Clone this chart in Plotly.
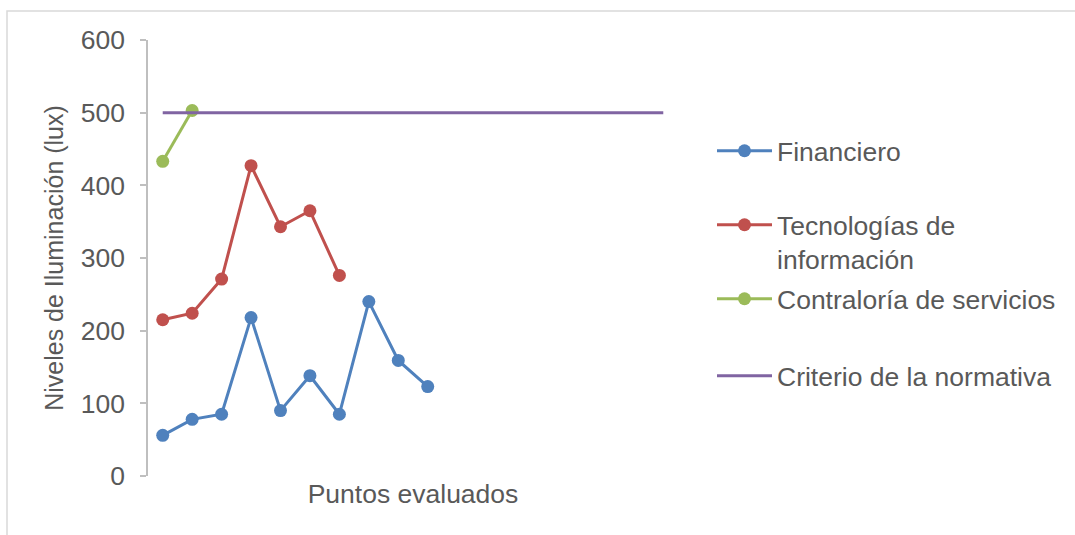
import plotly.graph_objects as go

# Measurement points (category positions along the x axis)
puntos = list(range(1, 19))

financiero = [56, 78, 85, 218, 90, 138, 85, 240, 159, 123]
tecnologias = [215, 224, 271, 427, 343, 365, 276]
contraloria = [433, 503]
criterio = [500] * 18

y_ticks = [0, 100, 200, 300, 400, 500, 600]

FONT = "Liberation Sans, Arial, sans-serif"
GRAY = "#595959"
W, H = 1075, 535
L, R, T, B = 148, 397, 40, 59
pw, ph = W - L - R, H - T - B


def px_x(x):
    return (x - L) / pw


def px_y(y):
    return (H - B - y) / ph


series = [
    ("Financiero", financiero, "#4F81BD", True, "legend"),
    ("Tecnologías de<br>información", tecnologias, "#C0504D", True, "legend2"),
    ("Contraloría de servicios", contraloria, "#9BBB59", True, "legend3"),
    ("Criterio de la normativa", criterio, "#8064A2", False, "legend4"),
]

fig = go.Figure()
for name, vals, color, markers, leg in series:
    fig.add_trace(go.Scatter(
        x=puntos[:len(vals)], y=vals, name=name,
        mode="lines+markers" if markers else "lines",
        line=dict(color=color, width=3),
        marker=dict(color=color, size=13),
        legend=leg,
    ))

# vertical centre of each legend entry's text block
legend_centers = [151, 242, 299, 376]
leg_common = dict(
    font=dict(family=FONT, size=26.5, color=GRAY),
    bgcolor="rgba(0,0,0,0)", itemwidth=55, valign="top",
    xanchor="left", yanchor="middle",
)
legends = {}
for key, yc in zip(["legend", "legend2", "legend3", "legend4"], legend_centers):
    legends[key] = dict(leg_common, x=px_x(712), y=px_y(yc))

fig.update_layout(
    width=W, height=H,
    margin=dict(l=L, r=R, t=T, b=B),
    paper_bgcolor="white", plot_bgcolor="white",
    font=dict(family=FONT, color=GRAY),
    showlegend=True,
    xaxis=dict(
        range=[0.5, 18.5], showgrid=False, zeroline=False,
        showticklabels=False, ticks="", showline=False,
        title=dict(text="Puntos evaluados", font=dict(size=26.5, color=GRAY), standoff=8),
    ),
    yaxis=dict(
        range=[0, 600], tickvals=y_ticks, showgrid=False, zeroline=False,
        showline=True, linecolor="#BFBFBF", linewidth=1.5,
        ticks="outside", ticklen=6, tickcolor="#BFBFBF", tickwidth=1.5,
        ticklabelstandoff=10,
        tickfont=dict(size=26.5, color=GRAY),
        title=dict(text="Niveles de Iluminación (lux)", font=dict(size=25, color=GRAY), standoff=10),
    ),
    shapes=[dict(
        type="rect", xref="paper", yref="paper",
        x0=px_x(7), x1=px_x(W + 20), y0=px_y(11), y1=px_y(H + 20),
        line=dict(color="#D9D9D9", width=1.5), fillcolor="rgba(0,0,0,0)", layer="below",
    )],
    **legends,
)

fig.write_html("out.html")
